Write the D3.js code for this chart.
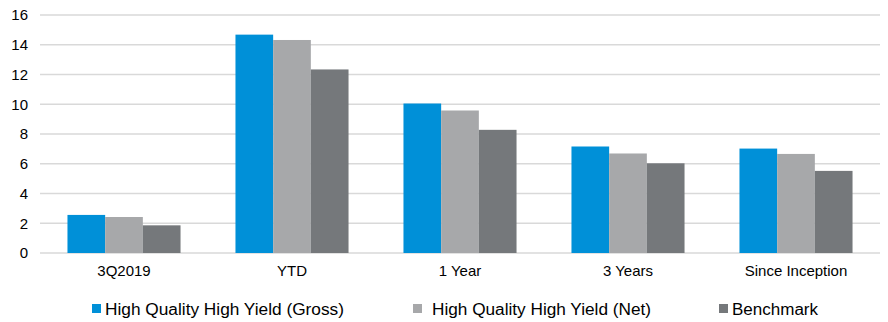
<head>
  <title>Returns</title>
  <script src="https://d3js.org/d3.v7.min.js"></script>
  <meta charset="utf-8">
  <style>
    body { margin: 0; background: #fff; }
    text { font-family: "Liberation Sans", Arial, sans-serif; fill: #000; }
  </style>
</head>

<body>
  <div id="my_dataviz"></div>
  <script>
    // data
    var categories = ["3Q2019", "YTD", "1 Year", "3 Years", "Since Inception"];
    var seriesNames = ["High Quality High Yield (Gross)", "High Quality High Yield (Net)", "Benchmark"];
    var gross = [2.56, 14.68, 10.05, 7.16, 7.02];
    var net = [2.42, 14.32, 9.58, 6.69, 6.66];
    var benchmark = [1.86, 12.34, 8.28, 6.03, 5.52];
    var yTicks = [0, 2, 4, 6, 8, 10, 12, 14, 16];
    var colors = ["#0090d8", "#a7a8aa", "#75787b"];

    var seriesValues = [gross, net, benchmark];

    var margin = { top: 15, right: 8, bottom: 69, left: 40 },
      width = 888 - margin.left - margin.right,
      height = 322 - margin.top - margin.bottom;

    var svg = d3.select("#my_dataviz")
      .append("svg")
      .attr("width", 888)
      .attr("height", 322)
      .append("g")
      .attr("transform", "translate(" + margin.left + "," + margin.top + ")");

    var x = d3.scaleBand()
      .domain(categories)
      .range([0, width])
      .paddingInner(0.327)
      .paddingOuter(0.1635);

    var x1 = d3.scaleBand()
      .domain(seriesNames)
      .range([0, x.bandwidth()]);

    var y = d3.scaleLinear()
      .domain([0, 16])
      .range([height, 0]);

    // gridlines
    svg.append("g")
      .selectAll("line")
      .data(yTicks)
      .enter()
      .append("line")
      .attr("x1", 0)
      .attr("x2", width)
      .attr("y1", function (d) { return y(d); })
      .attr("y2", function (d) { return y(d); })
      .attr("stroke", "#d9d9d9")
      .attr("stroke-width", 1.5);

    // y axis
    var yAxis = svg.append("g")
      .call(d3.axisLeft(y).tickValues(yTicks).tickSize(0).tickPadding(12));
    yAxis.select(".domain").remove();
    yAxis.selectAll("text").style("font-size", "15px");

    // bars
    var groups = svg.append("g")
      .selectAll("g")
      .data(categories)
      .enter()
      .append("g")
      .attr("transform", function (d) { return "translate(" + x(d) + ",0)"; });

    groups.selectAll("rect")
      .data(function (d, i) {
        return seriesNames.map(function (s, j) {
          return { series: s, value: seriesValues[j][i], color: colors[j] };
        });
      })
      .enter()
      .append("rect")
      .attr("x", function (d) { return x1(d.series); })
      .attr("y", function (d) { return y(d.value); })
      .attr("width", x1.bandwidth())
      .attr("height", function (d) { return height - y(d.value); })
      .attr("fill", function (d) { return d.color; });

    // x axis
    var xAxis = svg.append("g")
      .attr("transform", "translate(0," + height + ")")
      .call(d3.axisBottom(x).tickSize(0).tickPadding(12));
    xAxis.select(".domain").remove();
    xAxis.selectAll("text").style("font-size", "15px");

    // legend (text is a bit wider in the original, so stretch it)
    var legendX = [92, 413, 719];
    var legendTextLen = [239, 219, 86];
    var legend = d3.select("svg").append("g");
    seriesNames.forEach(function (s, i) {
      legend.append("rect")
        .attr("x", legendX[i])
        .attr("y", 304)
        .attr("width", 9)
        .attr("height", 9)
        .attr("fill", colors[i]);
      legend.append("text")
        .attr("x", legendX[i] + (i == 1 ? 19 : 13))
        .attr("y", 315)
        .attr("textLength", legendTextLen[i])
        .attr("lengthAdjust", "spacingAndGlyphs")
        .style("font-size", "16px")
        .text(s);
    });
  </script>
</body>

</html>
